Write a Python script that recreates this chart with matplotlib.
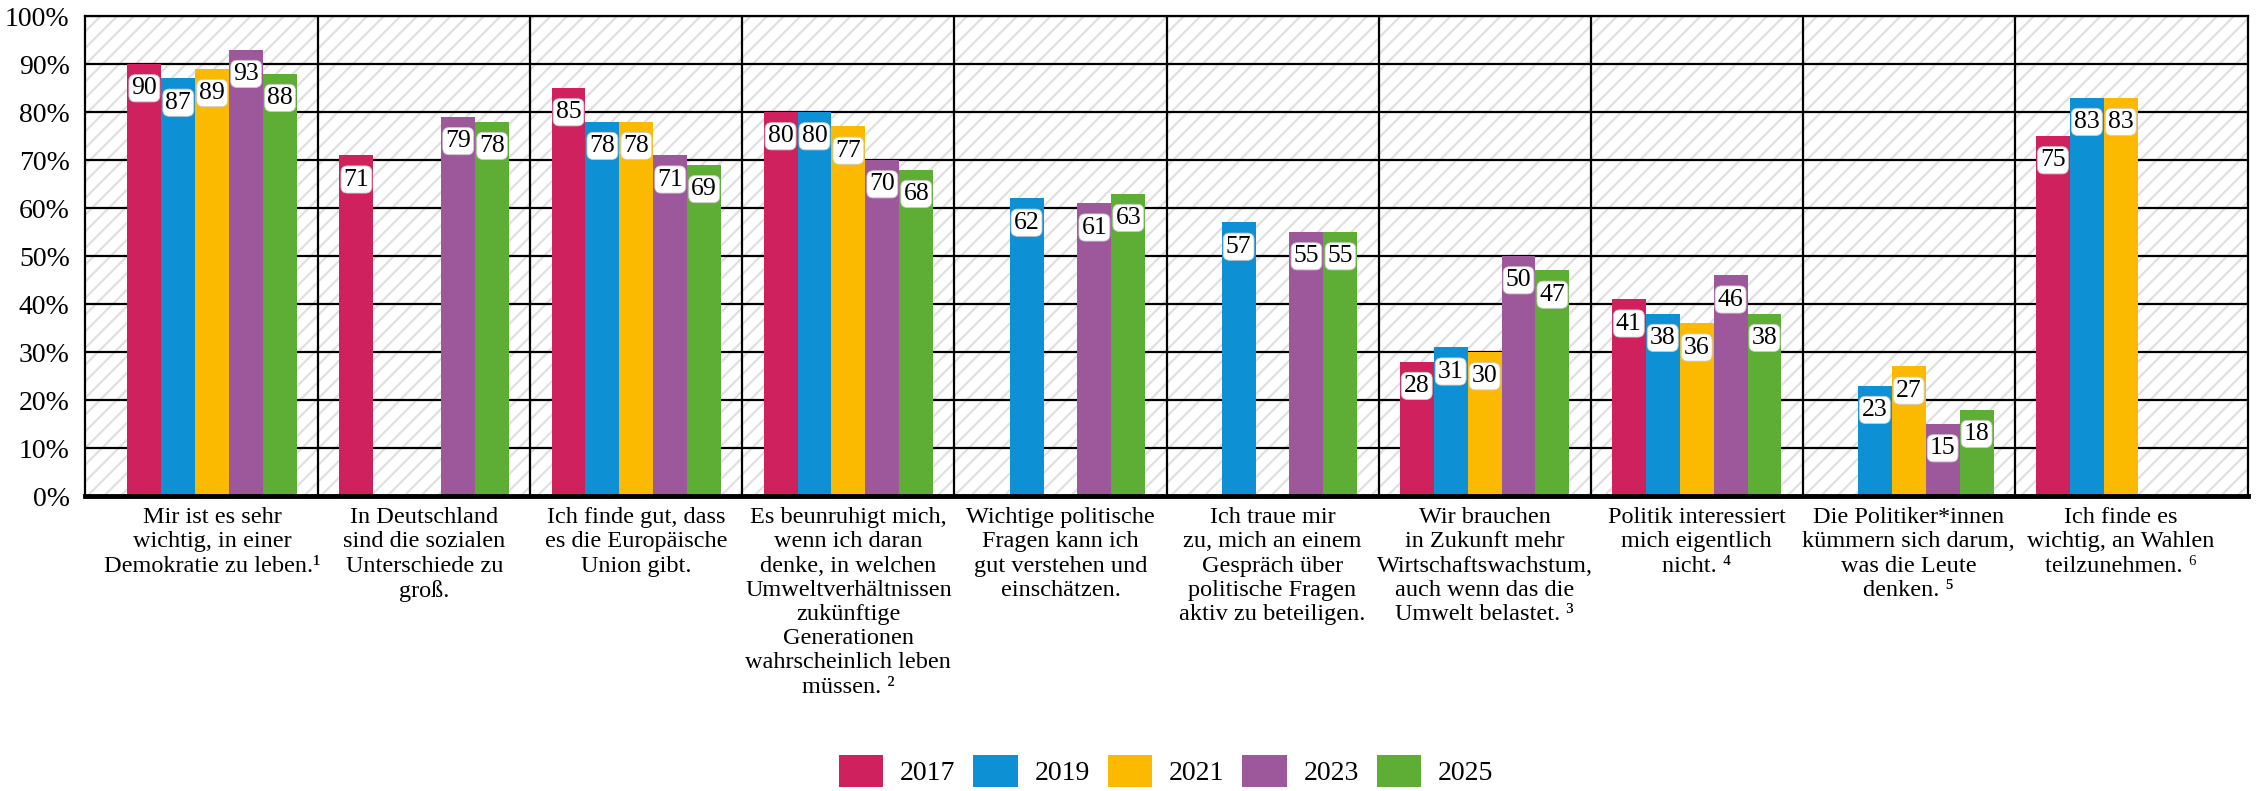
import matplotlib.pyplot as plt
import numpy as np
from matplotlib.patches import Rectangle

nan = np.nan

categories = [
    "Mir ist es sehr\nwichtig, in einer\nDemokratie zu leben.¹",
    "In Deutschland\nsind die sozialen\nUnterschiede zu\ngroß.",
    "Ich finde gut, dass\nes die Europäische\nUnion gibt.",
    "Es beunruhigt mich,\nwenn ich daran\ndenke, in welchen\nUmweltverhältnissen\nzukünftige\nGenerationen\nwahrscheinlich leben\nmüssen. ²",
    "Wichtige politische\nFragen kann ich\ngut verstehen und\neinschätzen.",
    "Ich traue mir\nzu, mich an einem\nGespräch über\npolitische Fragen\naktiv zu beteiligen.",
    "Wir brauchen\nin Zukunft mehr\nWirtschaftswachstum,\nauch wenn das die\nUmwelt belastet. ³",
    "Politik interessiert\nmich eigentlich\nnicht. ⁴",
    "Die Politiker*innen\nkümmern sich darum,\nwas die Leute\ndenken. ⁵",
    "Ich finde es\nwichtig, an Wahlen\nteilzunehmen. ⁶",
]

years = ["2017", "2019", "2021", "2023", "2025"]

v2017 = [90, 71, 85, 80, nan, nan, 28, 41, nan, 75]
v2019 = [87, nan, 78, 80, 62, 57, 31, 38, 23, 83]
v2021 = [89, nan, 78, 77, nan, nan, 30, 36, 27, 83]
v2023 = [93, 79, 71, 70, 61, 55, 50, 46, 15, nan]
v2025 = [88, 78, 69, 68, 63, 55, 47, 38, 18, nan]

colors = ["#CE215E", "#0E90D4", "#FBBA00", "#9D579B", "#5EAD35"]

yticks = [0, 10, 20, 30, 40, 50, 60, 70, 80, 90, 100]
ytick_labels = [f"{t}%" for t in yticks]

serif = ["Liberation Serif", "DejaVu Serif"]
plt.rcParams["font.family"] = serif
plt.rcParams["hatch.linewidth"] = 1.6

fig = plt.figure(figsize=(22.59, 7.91), dpi=100)
ax = fig.add_axes([85 / 2259, 1 - 496 / 791, (2248 - 85) / 2259, 480 / 791])

# hatched background
ax.add_patch(Rectangle((0, 0), 1, 1, transform=ax.transAxes, facecolor="white",
                       edgecolor="#e0e0e0", hatch="//", linewidth=0, zorder=0))

x = np.arange(len(categories))
width = 0.16
series = [v2017, v2019, v2021, v2023, v2025]

for i, (vals, col, yr) in enumerate(zip(series, colors, years)):
    pos = x + (i - 2) * width
    ax.bar(pos, vals, width=width, color=col, label=yr, zorder=3)
    for p, v in zip(pos, vals):
        if np.isnan(v):
            continue
        ax.annotate(f"{v:.0f}", (p, v), xytext=(0, -17.5), textcoords="offset points",
                    ha="center", va="center", fontsize=18.5, zorder=5,
                    bbox=dict(boxstyle="round,pad=0.1,rounding_size=0.25",
                              fc="white", ec="#cccccc", lw=0.6))

for t in yticks[1:]:
    ax.axhline(t, color="black", lw=1.6, zorder=1)
for s in np.arange(0.5, len(categories) - 1, 1):
    ax.axvline(s, color="black", lw=1.6, zorder=1)

ax.set_xlim(-0.6, len(categories) - 0.4)
ax.set_ylim(0, 100)
ax.set_yticks(yticks)
ax.set_yticklabels(ytick_labels, fontsize=20)
ax.set_xticks(x)
ax.set_xticklabels(categories, fontsize=17.5, linespacing=1.2, va="top")
ax.tick_params(axis="both", length=0)
ax.tick_params(axis="y", pad=11)
ax.tick_params(axis="x", pad=8)

for side in ["left", "right", "top"]:
    ax.spines[side].set_linewidth(1.6)
ax.spines["bottom"].set_linewidth(3.5)
for sp in ax.spines.values():
    sp.set_zorder(6)

fig.legend(loc="center", bbox_to_anchor=(1166 / 2259, 1 - 771 / 791), ncol=5,
           frameon=False, fontsize=20, handlelength=1.6, handleheight=1.4,
           handletextpad=0.6, columnspacing=0.65)

fig.savefig("out.png", dpi=100)
